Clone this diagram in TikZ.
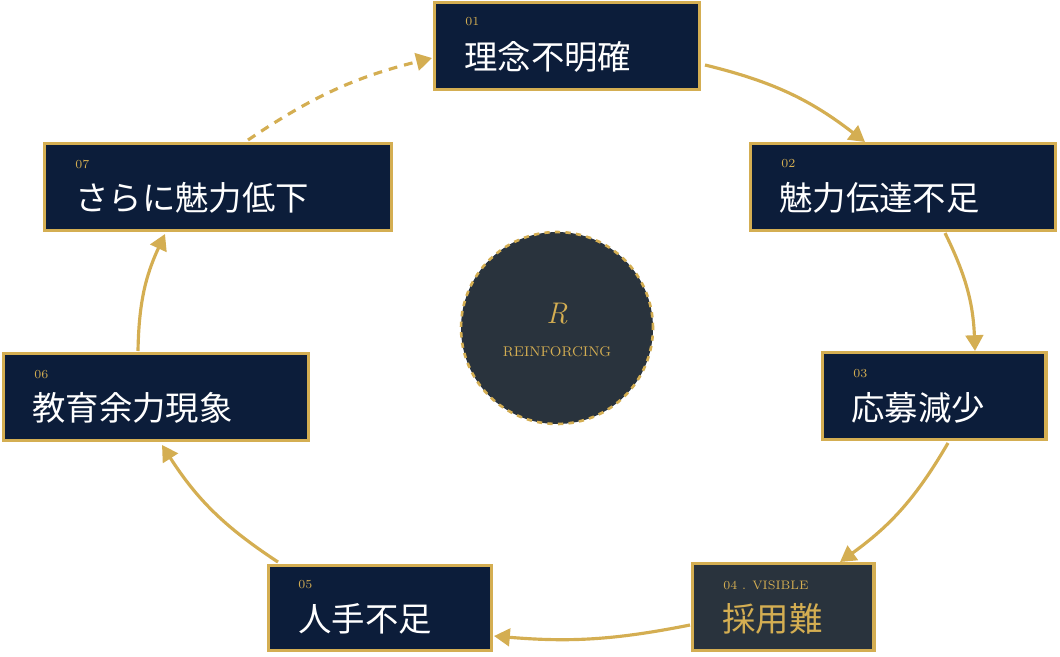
\documentclass[tikz,border=0pt]{standalone}
\usepackage{fontspec}
\newfontfamily\cjk{Noto Sans CJK JP}
\usetikzlibrary{positioning,arrows.meta}
\definecolor{navy}{HTML}{0C1D3A}
\definecolor{gold}{HTML}{D4AE52}
\definecolor{slate}{HTML}{29333D}
\tikzset{
  stage/.style={draw=gold, line width=2pt, fill=navy, inner sep=0pt},
  word/.style={text=white, inner sep=0pt, anchor=west,
    font=\cjk\fontsize{19}{19}\selectfont},
  num/.style={text=gold, font=\fontsize{7}{7}\selectfont, anchor=west, inner sep=0pt},
  loop/.style={draw=gold, line width=1.8pt, -{Triangle[length=9pt,width=10pt]}}
}
\begin{document}
\begin{tikzpicture}[x=0.02cm,y=-0.02cm]
\useasboundingbox (0,0) rectangle (1060,656);
% stages
\node[stage, minimum width=5.3cm, minimum height=1.74cm] (s1) at (567,46) {};
\node[stage, minimum width=6.1cm, minimum height=1.74cm] (s2) at (903,187) {};
\node[stage, minimum width=4.47cm, minimum height=1.74cm] (s3) at (934,396) {};
\node[stage, minimum width=3.63cm, minimum height=1.74cm, fill=slate] (s4) at (783,607) {};
\node[stage, minimum width=4.47cm, minimum height=1.70cm] (s5) at (380,608) {};
\node[stage, minimum width=6.1cm, minimum height=1.74cm] (s6) at (156,397) {};
\node[stage, minimum width=6.95cm, minimum height=1.74cm] (s7) at (218,187) {};
% texts
\node[word] (t1) at (464,57) {理念不明確};
\node[word] (t2) at (779,198) {魅力伝達不足};
\node[word] (t3) at (851,408) {応募減少};
\node[word, text=gold] (t4) at (722,619) {採用難};
\node[word] (t5) at (298,619) {人手不足};
\node[word] (t6) at (32,408) {教育余力現象};
\node[word] (t7) at (75,198) {さらに魅力低下};
\node[num] (n1) at (465,22) {01};
\node[num] (n2) at (781,164) {02};
\node[num] (n3) at (853,374) {03};
\node[num] (n4) at (723,585) {04 . VISIBLE};
\node[num] (n5) at (298,585) {05};
\node[num] (n6) at (34,375) {06};
\node[num] (n7) at (75,164) {07};
% centre
\node[circle, draw=gold, dashed, line width=1.5pt, fill=slate, minimum size=3.84cm] (core) at (557,328) {};
\node[text=gold, font=\itshape\fontsize{17}{17}\selectfont] (r) at (557,314) {R};
\node[text=gold, font=\fontsize{8}{8}\selectfont] (lab) at (557,352) {REINFORCING};
% connector ends
\coordinate (a1) at (705,65);  \coordinate (b1) at (865,142);
\coordinate (a2) at (945,233); \coordinate (b2) at (975,351);
\coordinate (a3) at (948,443); \coordinate (b3) at (840,562);
\coordinate (a4) at (690,625); \coordinate (b4) at (494,636);
\coordinate (a5) at (278,562); \coordinate (b5) at (162,445);
\coordinate (a6) at (138,351); \coordinate (b6) at (165,234);
\coordinate (a7) at (248,140); \coordinate (b7) at (432,58);
\foreach \i/\b in {1/12,2/12,3/12,4/8,5/12,6/12}
  \draw[loop] (a\i) to[bend left=\b] (b\i);
\draw[loop, dash pattern=on 5pt off 4pt] (a7) to[bend left=10] (b7);
\end{tikzpicture}
\end{document}
